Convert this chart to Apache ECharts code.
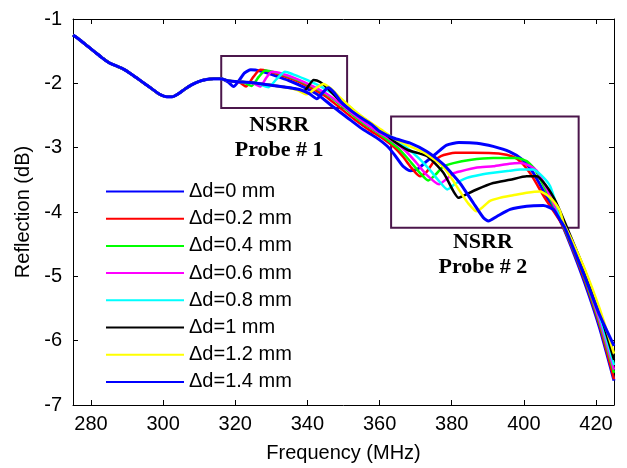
<!DOCTYPE html>
<html>
<head>
<meta charset="utf-8">
<script src="https://cdn.jsdelivr.net/npm/echarts@6/dist/echarts.min.js"></script>
<style>html,body{margin:0;padding:0;background:#fff}#c{width:627px;height:468px}</style>
</head>
<body>
<div id="c"></div>
<script>
// ---- data ----
const seriesNames = ['\u0394d=0 mm','\u0394d=0.2 mm','\u0394d=0.4 mm','\u0394d=0.6 mm','\u0394d=0.8 mm','\u0394d=1 mm','\u0394d=1.2 mm','\u0394d=1.4 mm'];
const xTicks = [280,300,320,340,360,380,400,420];
// shared low-frequency part (all curves overlap)
const commonStart = [[275,-1.25],[277,-1.33],[279,-1.42],[281,-1.51],[283,-1.6],[285,-1.68],[287,-1.73],[289,-1.78],[291,-1.85],[293,-1.93],[295,-2.01],[297,-2.09],[299,-2.17],[301,-2.21],[302.5,-2.21],[304,-2.17],[306,-2.09],[308,-2.02],[310,-1.97],[312,-1.94],[314,-1.93],[316,-1.93]];
const d00 = [[318,-1.98],[319.5,-2.05],[321,-1.96],[322.5,-1.84],[324.3,-1.79],[327,-1.81],[331,-1.88],[335,-1.96],[339,-2.06],[343,-2.18],[347,-2.36],[351,-2.53],[355,-2.70],[359,-2.84],[362,-2.97],[364,-3.1],[366.5,-3.29],[368.5,-3.36],[370.3,-3.34],[373.1,-3.21],[375.9,-3.08],[378.6,-2.96],[382,-2.92],[387,-2.93],[391.5,-2.98],[396,-3.06],[399.5,-3.18],[402.6,-3.39],[406.3,-3.76],[410,-4.12],[413,-4.52],[417,-5.12],[421,-5.8],[425,-6.62]];
const d02 = [[318,-1.96],[321,-1.98],[323,-2.05],[325,-1.9],[326.9,-1.79],[329,-1.81],[333,-1.88],[337,-1.96],[341,-2.07],[345,-2.2],[349,-2.38],[353,-2.56],[357,-2.72],[361,-2.86],[364,-2.99],[366.5,-3.14],[368.5,-3.29],[371.2,-3.445],[373,-3.38],[375,-3.22],[377,-3.13],[381,-3.08],[386,-3.08],[393,-3.09],[397,-3.14],[399.5,-3.24],[402,-3.42],[406,-3.8],[410,-4.14],[413,-4.5],[417,-5.08],[421,-5.76],[425,-6.6]];
const d04 = [[318,-1.96],[322,-1.98],[324.5,-2.04],[326.5,-1.9],[328.3,-1.8],[331,-1.83],[335,-1.9],[339,-1.99],[343,-2.1],[347,-2.24],[351,-2.42],[355,-2.6],[359,-2.75],[362,-2.87],[365,-3.0],[368,-3.18],[371,-3.38],[373.5,-3.51],[375.5,-3.42],[377.5,-3.3],[380.5,-3.24],[385,-3.19],[391.5,-3.16],[398,-3.16],[400.8,-3.21],[403,-3.33],[406,-3.65],[410,-4.1],[413,-4.48],[417,-5.05],[421,-5.72],[425,-6.5]];
const d06 = [[318,-1.96],[322,-1.98],[325,-2.0],[326.9,-2.05],[328.5,-1.92],[330.1,-1.82],[333,-1.85],[337,-1.93],[341,-2.03],[345,-2.15],[349,-2.31],[353,-2.49],[357,-2.66],[361,-2.8],[364,-2.91],[367,-3.04],[370,-3.22],[373,-3.42],[376.5,-3.57],[378.5,-3.49],[380.5,-3.4],[382.3,-3.37],[387,-3.31],[391.5,-3.29],[396,-3.25],[399,-3.24],[401.5,-3.28],[403.6,-3.36],[406,-3.6],[410,-4.08],[413,-4.45],[417,-5.02],[421,-5.68],[425,-6.45]];
const d08 = [[318,-1.96],[322,-1.98],[326,-2.0],[329.2,-2.06],[331.5,-1.93],[333.8,-1.82],[336,-1.86],[340,-1.95],[344,-2.06],[348,-2.2],[352,-2.38],[356,-2.56],[360,-2.72],[364,-2.86],[368,-3.02],[371,-3.17],[374,-3.35],[376.5,-3.52],[378.8,-3.65],[381,-3.56],[384.2,-3.47],[388,-3.42],[391.5,-3.39],[396,-3.36],[399,-3.34],[402.6,-3.34],[405,-3.44],[407.3,-3.6],[410,-4.05],[413,-4.42],[417,-4.98],[421,-5.62],[425,-6.38]];
const d10 = [[318,-1.96],[322,-1.98],[326,-2.0],[330,-2.03],[334,-2.06],[337,-2.09],[338.9,-2.13],[340.3,-2.04],[341.7,-1.95],[343.5,-1.98],[346,-2.1],[349,-2.27],[353,-2.45],[357,-2.6],[361,-2.76],[364,-2.9],[368,-3.04],[373.1,-3.13],[377.7,-3.39],[380.5,-3.68],[381.9,-3.78],[383.5,-3.74],[386.9,-3.65],[391.5,-3.55],[396.2,-3.5],[400.8,-3.445],[403.6,-3.445],[406.3,-3.6],[408.5,-3.8],[410,-3.98],[413,-4.38],[417,-4.92],[421,-5.55],[425,-6.3]];
const d12 = [[318,-1.96],[322,-1.98],[326,-2.0],[330,-2.03],[334,-2.06],[337,-2.1],[339.8,-2.17],[342,-2.09],[344.4,-2.01],[346.5,-2.08],[349,-2.22],[353,-2.42],[357,-2.59],[361,-2.74],[364,-2.86],[368.5,-2.98],[373,-3.1],[377.7,-3.3],[380,-3.48],[382.3,-3.68],[384.5,-3.86],[386.9,-3.99],[388.5,-3.93],[390.5,-3.83],[393.3,-3.78],[397,-3.74],[400.8,-3.7],[404.5,-3.68],[406.5,-3.74],[408.2,-3.83],[410,-3.98],[411,-4.17],[413,-4.4],[417,-4.9],[421,-5.5],[425,-6.2]];
const d14 = [[318,-1.96],[322,-1.98],[326,-2.0],[330,-2.03],[334,-2.06],[338,-2.1],[340.5,-2.16],[342.6,-2.24],[344.3,-2.14],[345.8,-2.07],[347.5,-2.15],[349.5,-2.3],[352,-2.42],[355,-2.54],[358,-2.65],[360.1,-2.75],[363.8,-2.85],[368.5,-2.93],[373.1,-3.06],[377.7,-3.26],[380,-3.4],[382.3,-3.55],[386,-3.86],[388.8,-4.09],[390.2,-4.14],[392.5,-4.07],[396.2,-3.96],[400.8,-3.91],[405.4,-3.9],[408.2,-3.96],[410,-4.12],[411.4,-4.25],[414,-4.6],[417,-5.02],[421,-5.6],[425,-6.08]];
const seriesData = [d00,d02,d04,d06,d08,d10,d12,d14];
const colors = ['#0000ff','#ff0000','#00ff00','#ff00ff','#00ffff','#000000','#ffff00','#0000ff'];
// annotation boxes [f1, r1, f2, r2]
const box1 = [316.1,-1.574,351.0,-2.385];
const box2 = [363.2,-2.515,415.2,-4.245];
const box1Text = 'NSRR\nProbe # 1';
const box2Text = 'NSRR\nProbe # 2';

// ---- chart ----
const chart = echarts.init(document.getElementById('c'), null, {renderer:'canvas'});
const axisFont = {fontFamily:'Liberation Sans, Arial, sans-serif', fontSize:20, color:'#000'};
const boxStyle = {color:'rgba(0,0,0,0)', borderColor:'#4b164b', borderWidth:2};
const labelBase = {show:true, position:'bottom', fontFamily:'Liberation Serif, Times New Roman, serif', fontWeight:'bold', fontSize:22, lineHeight:25, color:'#000', align:'center'};

const series = seriesData.map((d,i) => {
  const s = {
    name: seriesNames[i], type:'line', data: commonStart.concat(d),
    showSymbol:false, symbol:'none', smooth:0.2,
    lineStyle:{color:colors[i], width:(colors[i]==='#0000ff'?3:2.5)},
    itemStyle:{color:colors[i]},
    xAxisIndex:0, yAxisIndex:0, z: 2+i
  };
  if (i === 0) {
    s.markArea = {
      silent:true,
      itemStyle: boxStyle,
      data: [
        [{xAxis:box1[0], yAxis:box1[1], label:Object.assign({}, labelBase, {distance:4, offset:[-5,0]})}, {xAxis:box1[2], yAxis:box1[3]}],
        [{xAxis:box2[0], yAxis:box2[1], label:Object.assign({}, labelBase, {distance:1, offset:[-2,0]})}, {xAxis:box2[2], yAxis:box2[3]}]
      ]
    };
    s.markArea.data[0][0].name = box1Text;
    s.markArea.data[1][0].name = box2Text;
  }
  return s;
});

const option = {
  animation:false,
  backgroundColor:'#fff',
  grid:{left:73, right:13, top:19, bottom:62, containLabel:false},
  legend:{
    data: seriesNames, orient:'vertical', left:101, top:176.5,
    itemWidth:78, itemHeight:20, itemGap:7.2,
    icon:'path://M0,9L78,9L78,11L0,11Z',
    textStyle:{fontFamily:'Liberation Sans, Arial, sans-serif', fontSize:20, color:'#000'},
    selectedMode:false
  },
  xAxis:[
    {type:'value', min:275, max:425, position:'bottom',
     name:'Frequency (MHz)', nameLocation:'middle', nameGap:38, nameTextStyle:axisFont,
     axisLine:{show:true, onZero:false, lineStyle:{color:'#000', width:1}},
     axisTick:{show:true, inside:true, length:5, customValues:xTicks, lineStyle:{color:'#000'}},
     axisLabel:Object.assign({customValues:xTicks, margin:9}, axisFont),
     splitLine:{show:false}},
    {type:'value', min:275, max:425, position:'top',
     axisLine:{show:true, onZero:false, lineStyle:{color:'#000', width:1}},
     axisTick:{show:true, inside:true, length:5, customValues:xTicks, lineStyle:{color:'#000'}},
     axisLabel:{show:false}, splitLine:{show:false}}
  ],
  yAxis:[
    {type:'value', min:-7, max:-1, interval:1, position:'left',
     name:'Reflection (dB)', nameLocation:'middle', nameGap:40, nameTextStyle:axisFont,
     axisLine:{show:true, onZero:false, lineStyle:{color:'#000', width:1}},
     axisTick:{show:true, inside:true, length:5, lineStyle:{color:'#000'}},
     axisLabel:Object.assign({margin:11}, axisFont),
     splitLine:{show:false}},
    {type:'value', min:-7, max:-1, interval:1, position:'right',
     axisLine:{show:true, onZero:false, lineStyle:{color:'#000', width:1}},
     axisTick:{show:true, inside:true, length:5, lineStyle:{color:'#000'}},
     axisLabel:{show:false}, splitLine:{show:false}}
  ],
  series: series
};
chart.setOption(option);
</script>
</body>
</html>
